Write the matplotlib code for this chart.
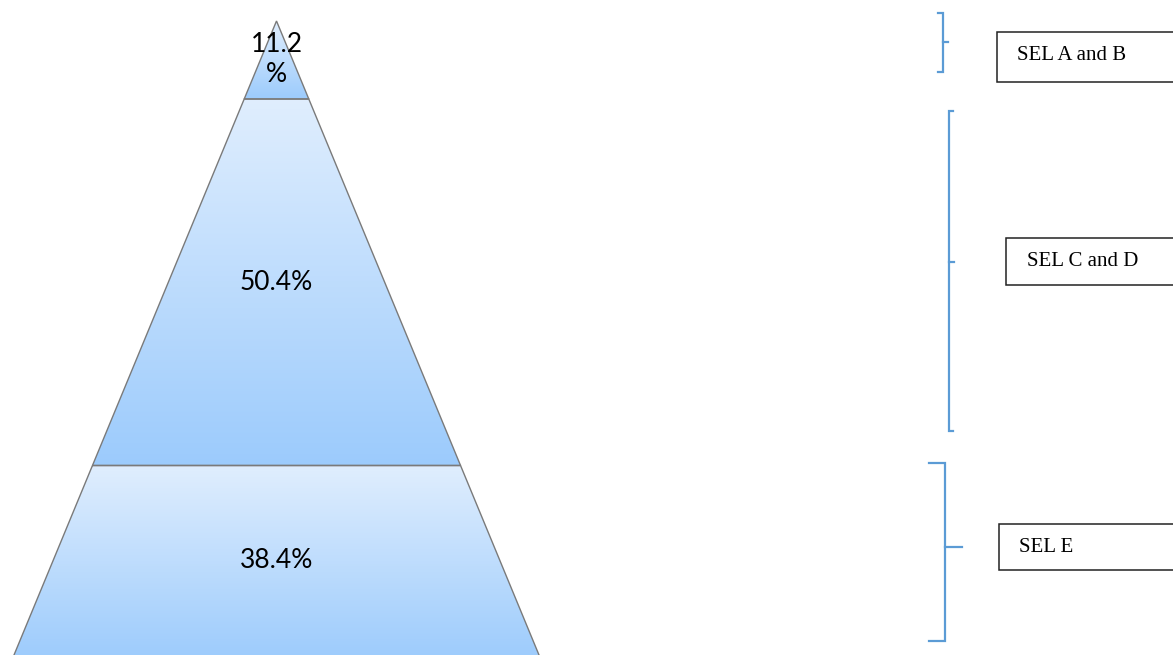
import numpy as np
import matplotlib
matplotlib.use("Agg")
import matplotlib.pyplot as plt
from matplotlib.patches import Polygon, Rectangle
from matplotlib.colors import LinearSegmentedColormap

# ---- data ----
shares = [11.2, 50.4, 38.4]                 # top -> bottom
share_labels = ["11.2\n%", "50.4%", "38.4%"]
groups = ["SEL A and B", "SEL C and D", "SEL E"]

# ---- layout (pixel-like coordinates) ----
W, H = 1173, 655
fig = plt.figure(figsize=(W / 100, H / 100), dpi=100)
ax = fig.add_axes([0, 0, 1, 1])
ax.set_xlim(0, W)
ax.set_ylim(H, 0)
ax.axis("off")

apex_x, apex_y = 276.5, 21.0
slope = 262.5 / 634.0          # half-width per unit of depth
band_edges = [apex_y, 99.0, 465.5, 662.0]

def half_w(y):
    return (y - apex_y) * slope

cmap = LinearSegmentedColormap.from_list("pyr", ["#e0eefe", "#9ccbfc"])
grad = np.linspace(0, 1, 256).reshape(-1, 1)

for i in range(len(shares)):
    y0, y1 = band_edges[i], band_edges[i + 1]
    w0, w1 = half_w(y0), half_w(y1)
    pts = [(apex_x - w0, y0), (apex_x + w0, y0), (apex_x + w1, y1), (apex_x - w1, y1)]
    poly = Polygon(pts, closed=True, facecolor="none", edgecolor="#7a7a7a", lw=1.0, zorder=3)
    ax.add_patch(poly)
    im = ax.imshow(grad, cmap=cmap, aspect="auto",
                   extent=[apex_x - w1, apex_x + w1, y1, y0], zorder=2,
                   interpolation="bilinear")
    clip = Polygon(pts, closed=True, transform=ax.transData, facecolor="none", edgecolor="none")
    ax.add_patch(clip)
    im.set_clip_path(clip)

# percent labels
txt_kw = dict(ha="center", va="center", fontsize=19, family="Lato", color="black", zorder=5)
top_parts = share_labels[0].split("\n")
ax.text(apex_x, 44, top_parts[0], **txt_kw)
ax.text(apex_x, 75, top_parts[1], **txt_kw)
ax.text(apex_x, 283, share_labels[1], **txt_kw)
ax.text(apex_x, 561, share_labels[2], **txt_kw)

# brackets
bc = "#5b9bd5"
blw = 1.6
# bracket 1: "]" with right-pointing middle tick
ax.plot([937.5, 943, 943, 937.5], [12.5, 12.5, 72, 72], color=bc, lw=blw, solid_joinstyle="miter")
ax.plot([943, 948], [41.5, 41.5], color=bc, lw=blw)
# bracket 2: "[" with right-pointing middle tick
ax.plot([953, 948.5, 948.5, 953], [111, 111, 431, 431], color=bc, lw=blw, solid_joinstyle="miter")
ax.plot([948.5, 953.5], [262, 262], color=bc, lw=blw)
# bracket 3: "]" with right-pointing middle tick
ax.plot([929, 945, 945, 929], [463, 463, 640.5, 640.5], color=bc, lw=blw, solid_joinstyle="miter")
ax.plot([945, 962], [547, 547], color=bc, lw=blw)

# boxes
boxes = [(997, 32, 82, 1017, 56), (1006, 238, 285, 1027, 262), (999, 524, 570, 1019, 548)]
for (bx, top, bot, tx, ty), g in zip(boxes, groups):
    ax.add_patch(Rectangle((bx, top), W + 20 - bx, bot - top, facecolor="white",
                           edgecolor="#222222", lw=1.1, zorder=4, clip_on=True))
    ax.text(tx, ty, g, ha="left", va="center", fontsize=15, family="Liberation Serif",
            color="black", zorder=5)

fig.savefig("out.png", dpi=100)
